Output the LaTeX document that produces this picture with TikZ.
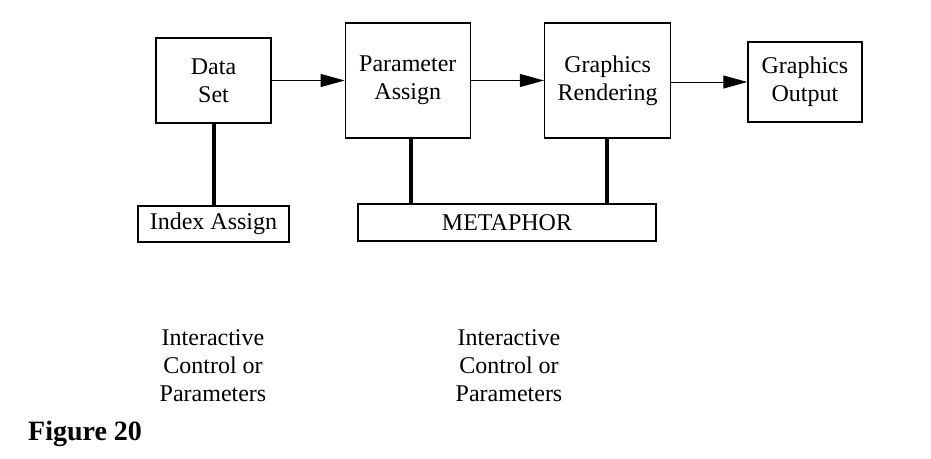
\documentclass[tikz,border=0pt]{standalone}
\usepackage{fontspec}
\setmainfont{Liberation Serif}
\usetikzlibrary{positioning, arrows.meta}

\begin{document}
\begin{tikzpicture}[
        x=1pt, y=-1pt,
        % boxes in the top row sit 73pt apart
        node distance=73pt,
        font=\fontsize{24}{28}\selectfont
    ]
        % Define node styles
        \tikzstyle{block}=[
            draw,
            line width=1.3pt,
            inner sep=0pt,
            align=center
        ]
        \tikzstyle{flowarrow}=[-{Triangle[length=24pt,width=13pt]}, line width=1pt]
        \tikzstyle{link}=[line width=4pt]

        \useasboundingbox (0,0) rectangle (931,458);

        % --- Top Row ---
        \node[block, minimum width=115pt, minimum height=85pt] (data) at (213.5,80.5) {Data\\Set};
        \node[block, minimum width=125pt, minimum height=115pt, right=of data] (param) {Parameter\\Assign};
        \node[block, minimum width=126pt, minimum height=115pt, right=of param] (render) {Graphics\\Rendering};
        \node[block, minimum width=114pt, minimum height=80pt, right=76pt of render, yshift=-1.5pt] (out) {Graphics\\Output};

        % --- Bottom Row ---
        \node[block, minimum width=151pt, minimum height=36pt] (index) at (213.5,224) {Index Assign};
        \node[block, minimum width=298pt, minimum height=37pt] (meta) at (507,222.5) {METAPHOR};

        % --- Free text ---
        \node[align=center] (ctrlA) at (213,366) {Interactive\\Control or\\Parameters};
        \node[align=center] (ctrlB) at (509,366) {Interactive\\Control or\\Parameters};
        \node[anchor=base west, inner sep=0pt, font=\fontsize{28}{32}\selectfont\bfseries] (caption) at (28,440) {Figure 20};

        % --- Main Flow Connections ---
        \draw[flowarrow] (data) -- (param);
        \draw[flowarrow] (param) -- (render);
        \draw[flowarrow] (render.east |- out) -- (out);

        % --- Links down to the bottom row ---
        \draw[link] (data.south) -- (index.north);
        \draw[link] ([xshift=3pt]param.south) -- ([xshift=3pt]param.south |- meta.north);
        \draw[link] ([xshift=-1pt]render.south) -- ([xshift=-1pt]render.south |- meta.north);

    \end{tikzpicture}
\end{document}
